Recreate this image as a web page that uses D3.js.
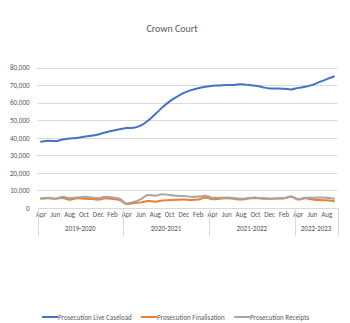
<!DOCTYPE html>
<html><head><meta charset="utf-8">
<script src="https://cdn.jsdelivr.net/npm/d3@7"></script>
<style>body{margin:0;background:#fff;}svg{display:block;font-family:Calibri,"Liberation Sans",Carlito,Arial,sans-serif;}</style>
</head><body>
<svg id="c" width="350" height="323"></svg>
<script>
const monthNames = ["Apr","May","Jun","Jul","Aug","Sep","Oct","Nov","Dec","Jan","Feb","Mar"];
const years = ["2019-2020","2020-2021","2021-2022","2022-2023"];
const yearMonths = [12,12,12,6];
const liveCaseload = [37700,38300,38100,39000,39600,39800,40600,41100,41900,43000,44000,44900,
  45500,45700,47000,49800,53500,57300,60700,63300,65600,67100,68200,69000,
  69600,69800,70000,70100,70500,70100,69600,68800,68100,68100,67900,67500,
  68400,69000,70100,71800,73400,74900];
const finalisation = [5300,5500,5300,5700,4700,5500,5300,5100,4700,5500,5100,4500,
  2300,2800,3200,4000,3600,4300,4500,4700,4800,4600,4800,6000,
  5000,5300,5600,5200,4800,5400,6000,5200,5300,5400,5600,6500,
  4800,5500,4900,4500,4400,3900];
const receipts = [5500,5800,5300,6400,5700,6000,6400,6000,5500,6400,6000,5300,
  2600,3400,5100,7400,7000,7900,7400,7000,6800,6400,6500,7000,
  5900,5800,6000,5600,5300,5500,5500,5700,5300,5500,5500,6400,
  5100,5800,5800,6000,5800,5300];
const yTicks = [0,10000,20000,30000,40000,50000,60000,70000,80000];
const seriesNames = ["Prosecution Live Caseload","Prosecution Finalisation","Prosecution Receipts"];
const colors = ["#4472C4","#ED7D31","#A5A5A5"];

const cats = [];
years.forEach((y,yi)=>{for(let m=0;m<yearMonths[yi];m++) cats.push(y+"|"+m);});

const svg = d3.select("#c");
const L=37.5, R=337.5, T=67.5, B=208;
const x = d3.scaleBand().domain(cats).range([L,R]);
const y = d3.scaleLinear().domain([0,80000]).range([B,T]);
const textCol = "#595959";

svg.append("text").attr("x",172).attr("y",32).attr("text-anchor","middle")
  .attr("font-size",10).attr("fill",textCol).text("Crown Court");

// gridlines
svg.append("g").selectAll("line").data(yTicks.slice(1)).join("line")
  .attr("x1",L).attr("x2",R).attr("y1",d=>Math.round(y(d))+0.5).attr("y2",d=>Math.round(y(d))+0.5)
  .attr("stroke","#d9d9d9").attr("stroke-width",1);
// y labels
const ya = svg.append("g").attr("transform",`translate(${L-5},0)`)
  .call(d3.axisLeft(y).tickValues(yTicks).tickSize(0).tickFormat(d3.format(",")));
ya.select(".domain").remove();
ya.selectAll("text").attr("font-size",7).attr("fill",textCol).attr("font-family","Calibri,'Liberation Sans',Arial,sans-serif");

// x axis
const xa = svg.append("g").attr("transform",`translate(0,${B})`)
  .call(d3.axisBottom(x).tickSize(0).tickFormat(d=>{const m=+d.split("|")[1];return m%2===0?monthNames[m]:"";}));
xa.select(".domain").attr("stroke","#d9d9d9");
xa.selectAll("text").attr("font-size",7).attr("fill",textCol).attr("dy","0.8em").attr("font-family","Calibri,'Liberation Sans',Arial,sans-serif");

// year separators and labels
let idx=0; const bounds=[L];
years.forEach((yr,yi)=>{
  const s=cats[idx], e=cats[idx+yearMonths[yi]-1];
  const x0=x(s), x1=x(e)+x.bandwidth();
  bounds.push(x1);
  svg.append("text").attr("x",(x0+x1)/2).attr("y",231).attr("text-anchor","middle")
    .attr("font-size",7).attr("fill",textCol).text(yr);
  idx+=yearMonths[yi];
});
svg.append("g").selectAll("line").data(bounds).join("line")
  .attr("x1",d=>Math.round(d)+0.5).attr("x2",d=>Math.round(d)+0.5).attr("y1",B).attr("y2",236)
  .attr("stroke","#d9d9d9");

// lines
const line = d3.line().x((d,i)=>x(cats[i])+x.bandwidth()/2).y(d=>y(d)).curve(d3.curveMonotoneX);
[liveCaseload,finalisation,receipts].forEach((s,i)=>{
  svg.append("path").datum(s).attr("d",line).attr("fill","none")
    .attr("stroke",colors[i]).attr("stroke-width",2).attr("stroke-linejoin","round").attr("stroke-linecap","round");
});
// reorder: receipts drawn under finalisation? keep receipts on top as in Excel order
// legend
const legX=[42,141,234];
seriesNames.forEach((n,i)=>{
  svg.append("line").attr("x1",legX[i]).attr("x2",legX[i]+16).attr("y1",317).attr("y2",317)
    .attr("stroke",colors[i]).attr("stroke-width",2);
  svg.append("text").attr("x",legX[i]+16).attr("y",319.5).attr("font-size",7).attr("fill",textCol).text(n);
});
</script>
</body></html>
